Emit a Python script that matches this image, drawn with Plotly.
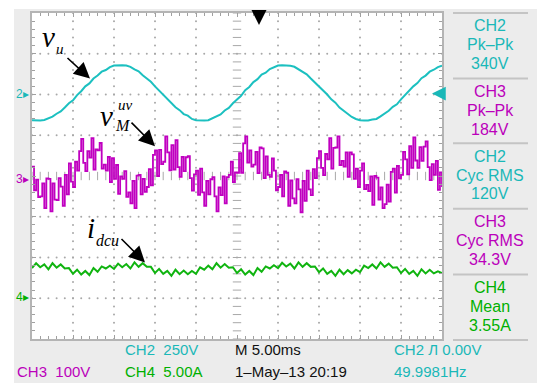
import numpy as np
import plotly.graph_objects as go

# ---------------- data ----------------
# time in ms, 10 divisions x 5.00 ms
VU_STEP_MS = 0.5
VM_STEP_MS = 0.25
ID_STEP_MS = 0.5

# CH2: v_u  (volts)
vu_volts = [
    -168, -170, -170, -166, -158, -146, -128, -114, -90, -64, -46, -14, 10, 40, 58, 88, 106, 130, 140, 158,
    168, 170, 170, 168, 160, 144, 132, 108, 88, 68, 40, 14, -14, -36, -66, -88, -106, -130, -140, -160,
    -168, -170, -170, -168, -156, -144, -132, -108, -92, -64, -38, -18, 16, 36, 66, 84, 112, 124, 146, 158,
    168, 170, 170, 166, 160, 146, 128, 114, 88, 64, 44, 14, -10, -40, -60, -90, -110, -126, -148, -160,
    -168, -170, -170, -164, -160, -144, -128, -110, -86, -70, -40, -12, 12, 40, 60, 90, 106, 130, 142, 158,
    166,
]

# CH3: v_M^uv (volts)
vm_volts = [
    30, -28, -2, -45, -43, -11, -72, 1, 0, -80, -11, -51, -52, 2, -19, -66,
    10, -38, 38, -7, -20, 42, 20, 68, 98, 39, 19, 68, 52, 100, 23, 72,
    70, 88, 25, 35, 20, 54, -8, 51, 0, 34, -37, 6, 0, 19, -44, -33,
    -60, -5, -72, 8, 10, -38, 0, -32, -20, 24, -16, 59, 70, 7, 71, 36,
    42, 104, 65, 21, 83, 23, 95, 29, 5, 54, 19, 53, 56, 2, -29, 11,
    20, -39, 25, -33, -66, -5, -38, -1, 4, -43, -80, -21, -40, 6, -60, 4,
    10, 42, -8, 16, 15, 63, 15, 87, 104, 40, 70, 30, 35, 66, 14, 77,
    75, 2, 55, 10, 5, 50, 20, -28, -20, 10, -43, 18, 15, -66, -4, -48,
    -60, -1, -26, -82, -5, -54, 20, -26, -40, 24, 2, 51, 68, 27, 9, 61,
    48, 100, 25, 76, 77, 104, 34, 44, 30, 65, 5, 65, 60, 0, 25, -20,
    20, 38, -25, -15, -30, 6, -64, 7, 3, -51, -21, -72, -62, -14, -56, 17,
    25, -34, 32, 1, 10, 66, 48, 11, 80, 27, 102, 45, 27, 78, 44, 79,
    92, 29, -3, 36, 10, 44, -27, 16, -20,
]

# CH4: i_dcu (amps)
idc_amps = [
    3.7, 4.3, 3.8, 4.15, 3.55, 4.3, 3.75, 4.15, 3.65, 3.7,
    3.0, 3.5, 2.9, 3.35, 2.85, 3.7, 3.25, 3.9, 3.65, 4.0,
    3.6, 4.25, 3.8, 4.2, 3.65, 4.4, 3.85, 4.3, 3.85, 3.85,
    3.1, 3.6, 3.0, 3.35, 2.75, 3.5, 2.95, 3.4, 2.95, 3.35,
    3.0, 3.8, 3.5, 4.0, 3.55, 4.3, 3.75, 4.2, 3.75, 3.8,
    3.1, 3.55, 2.9, 3.35, 2.85, 3.7, 3.25, 3.9, 3.65, 4.05,
    3.7, 4.35, 3.9, 4.25, 3.65, 4.4, 3.85, 4.3, 3.85, 3.9,
    3.2, 3.65, 3.0, 3.35, 2.75, 3.5, 2.95, 3.45, 3.05, 3.5,
    3.2, 4.0, 3.7, 4.15, 3.65, 4.4, 3.85, 4.25, 3.75, 3.8,
    3.1, 3.6, 3.0, 3.35, 2.75, 3.55, 3.05, 3.5, 3.05, 3.3,
    3.1,
]

# channel settings (scale per division, marker offset in divisions)
CH2_SCALE, CH2_OFFSET = 250.0, 2.04
CH3_SCALE, CH3_OFFSET = 100.0, -0.07
CH4_SCALE, CH4_OFFSET = 5.0, -3.0

readouts = [
    ("CH2", "Pk\u2013Pk", "340V"),
    ("CH3", "Pk\u2013Pk", "184V"),
    ("CH2", "Cyc RMS", "120V"),
    ("CH3", "Cyc RMS", "34.3V"),
    ("CH4", "Mean", "3.55A"),
]

CYAN_T, MAG_T, GRN_T = "#1cc0c0", "#c000c0", "#10b410"
CYAN, MAG, GRN = "#1ab8b8", "#bb00bb", "#00b000"
readout_colors = [CYAN, MAG, CYAN, MAG, GRN]

# ---------------- geometry ----------------
W, H = 537, 383
L, R, T, B = 32, 442, 11, 339


def xp(px):
    return (px - L) / (R - L)


def yp(py):
    return (B - py) / (B - T)


t_vu = np.arange(len(vu_volts)) * VU_STEP_MS
t_vm = np.arange(len(vm_volts)) * VM_STEP_MS
t_id = np.arange(len(idc_amps)) * ID_STEP_MS

fig = go.Figure()

# graticule dots
dot_x, dot_y = [], []
minor_y = np.round(np.arange(-4, 4.0001, 0.2), 3)
minor_x = np.arange(0, 50.0001, 1.0)
for gx in [5, 10, 15, 20, 30, 35, 40, 45]:
    dot_x += [gx] * len(minor_y)
    dot_y += list(minor_y)
for gy in [-3, -2, -1, 1, 2, 3]:
    dot_x += list(minor_x)
    dot_y += [gy] * len(minor_x)
fig.add_trace(go.Scatter(x=dot_x, y=dot_y, mode="markers",
                         marker=dict(size=2, color="#a8a8a8"), hoverinfo="skip"))
# centre cross ticks
fig.add_trace(go.Scatter(x=[25] * len(minor_y), y=minor_y, mode="markers",
                         marker=dict(symbol="line-ew", size=6, line=dict(width=1, color="#a8a8a8")),
                         hoverinfo="skip"))
fig.add_trace(go.Scatter(x=minor_x, y=[0] * len(minor_x), mode="markers",
                         marker=dict(symbol="line-ns", size=6, line=dict(width=1, color="#a8a8a8")),
                         hoverinfo="skip"))

# waveforms
fig.add_trace(go.Scatter(x=t_vu, y=np.array(vu_volts) / CH2_SCALE + CH2_OFFSET, mode="lines",
                         line=dict(color=CYAN_T, width=2), hoverinfo="skip"))
fig.add_trace(go.Scatter(x=t_vm, y=np.array(vm_volts) / CH3_SCALE + CH3_OFFSET, mode="lines",
                         line=dict(color=MAG_T, width=1.8, shape="hv"), hoverinfo="skip"))
fig.add_trace(go.Scatter(x=t_id, y=np.array(idc_amps) / CH4_SCALE + CH4_OFFSET, mode="lines",
                         line=dict(color=GRN_T, width=2), hoverinfo="skip"))

SANS = "Liberation Sans, Arial, sans-serif"
SERIF = "Liberation Serif, Times New Roman, serif"

anns = []


def txt(px, py, text, color, size, xanchor="left", family=SANS):
    anns.append(dict(xref="paper", yref="paper", x=xp(px), y=yp(py), text=text,
                     showarrow=False, xanchor=xanchor, yanchor="middle",
                     font=dict(family=family, size=size, color=color)))


def arrow(hx, hy, tx, ty, color="black", width=1.6, size=2.0, head=2):
    anns.append(dict(xref="paper", yref="paper", x=xp(hx), y=yp(hy), text="",
                     showarrow=True, axref="pixel", ayref="pixel", ax=tx - hx, ay=ty - hy,
                     arrowhead=head, arrowsize=size, arrowwidth=width, arrowcolor=color))


# right readout panel
box_tops = [11, 77, 142, 208, 274]
for (a, b_, c), col, top in zip(readouts, readout_colors, box_tops):
    txt(490, top + 13, a, col, 16, "center")
    txt(490, top + 32, b_, col, 16, "center")
    txt(490, top + 51, c, col, 16, "center")

# bottom status lines
txt(123, 350, "CH2  250V", CYAN, 15)
txt(15, 372, "CH3  100V", MAG, 15)
txt(123, 372, "CH4  5.00A", GRN, 15)
txt(233, 350, "M 5.00ms", "#111111", 15)
txt(233, 372, "1\u2013May\u201313 20:19", "#111111", 15)
txt(392, 350, "CH2 \u041b 0.00V", CYAN, 15)
txt(392, 372, "49.9981Hz", CYAN, 15)

# channel ground markers
txt(14, 92, "2\u25b8", CYAN, 12)
txt(14, 178, "3\u25b8", MAG, 12)
txt(14, 297, "4\u25b8", GRN, 12)

# trigger markers
arrow(259, 23, 259, 11, "black", 3.0, 1.0)
arrow(432, 92, 442, 92, CYAN, 2.5, 1.1)

# signal labels
txt(40, 35, "<i>v</i>", "black", 29, family=SERIF)
txt(54, 47, "<i>u</i>", "black", 15, family=SERIF)
arrow(90, 77, 66, 55)

txt(98, 115, "<i>v</i>", "black", 29, family=SERIF)
txt(116, 104, "<i>uv</i>", "black", 15, family=SERIF)
txt(113, 124, "<i>M</i>", "black", 16, family=SERIF)
arrow(155, 145, 130, 120)

txt(85, 227, "<i>i</i>", "black", 29, family=SERIF)
txt(94, 240, "<i>dcu</i>", "black", 16, family=SERIF)
arrow(145, 262, 120, 237)

# background panels
shapes = [
    dict(type="rect", xref="paper", yref="paper", x0=xp(14), x1=xp(540), y0=yp(386), y1=yp(7),
         fillcolor="#ececec", line=dict(width=0), layer="below"),
    dict(type="rect", xref="paper", yref="paper", x0=0, x1=1, y0=0, y1=1,
         fillcolor="white", line=dict(width=0), layer="below"),
]
for yy in [11, 77, 142, 208, 274, 340]:
    shapes.append(dict(type="line", xref="paper", yref="paper", x0=xp(453), x1=xp(528),
                       y0=yp(yy), y1=yp(yy), line=dict(color="#c4c4c4", width=2)))

axis_common = dict(showgrid=False, zeroline=False, showticklabels=False, ticks="inside",
                   ticklen=4, tickcolor="#a0a0a0", tickwidth=1, showline=True,
                   linecolor="#b4b4b4", linewidth=1.5, mirror="ticks", fixedrange=True)

fig.update_layout(
    width=W, height=H, autosize=False,
    margin=dict(l=L, r=W - R, t=T, b=H - B, pad=0),
    paper_bgcolor="white", plot_bgcolor="white",
    showlegend=False,
    xaxis=dict(range=[0, 50], dtick=5, tick0=0,
               minor=dict(dtick=1, ticks="inside", ticklen=3, tickcolor="#a0a0a0"), **axis_common),
    yaxis=dict(range=[-4, 4], dtick=1, tick0=0,
               minor=dict(dtick=0.2, ticks="inside", ticklen=3, tickcolor="#a0a0a0"), **axis_common),
    annotations=anns,
    shapes=shapes,
)

fig.write_html("out.html", config={"displayModeBar": False},
               post_script="document.body.style.margin='0';document.body.style.padding='0';")
